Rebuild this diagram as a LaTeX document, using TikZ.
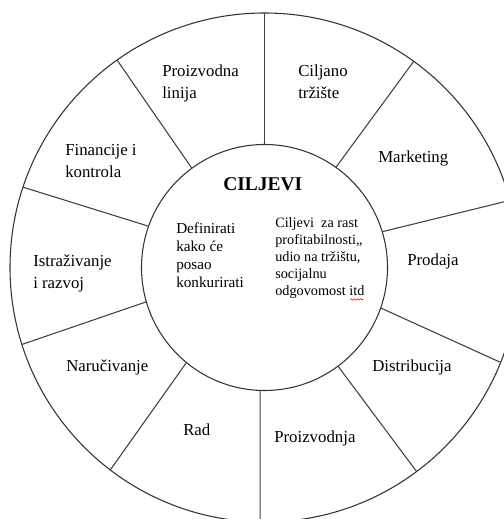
\documentclass[tikz,border=0pt]{standalone}
\usepackage{fontspec}
\setmainfont{Liberation Serif}
\usetikzlibrary{decorations.pathmorphing}
\newcommand\ml[1]{\begin{tabular}[t]{@{}l@{}}#1\end{tabular}}
\begin{document}
\begin{tikzpicture}[x=0.75pt,y=0.75pt,
  ring/.style={draw=black!80, line width=0.8pt},
  spoke/.style={draw=black!75, line width=0.8pt},
  lbl/.style={anchor=base west, inner sep=0pt, font=\fontsize{12.6}{15.9}\selectfont},
  title/.style={anchor=base west, inner sep=0pt, font=\fontsize{14.6}{17}\selectfont\bfseries},
  innerl/.style={anchor=base west, inner sep=0pt, font=\fontsize{11.4}{13.3}\selectfont},
  innerr/.style={anchor=base west, inner sep=0pt, font=\fontsize{10.7}{12.75}\selectfont},
  squiggle/.style={draw=red, line width=0.4pt, decorate, decoration={snake, amplitude=0.6pt, segment length=2.4pt}}]
\useasboundingbox (0,0) rectangle (504,519);
\clip (0,0) rectangle (504,519);
\coordinate (c) at (264.5,251.5);
\draw[ring] (c) circle[radius=254.5];
\draw[ring] (c) circle[radius=123];
\foreach \a/\b in {90/90, 126.2/125.4, 160.4/161.6, 196.2/197.6, 230.6/232.7,
                   268/269, 306.7/306.7, 340.8/338.1, 16.9/15.3, 54.5/54.1}
  \draw[spoke] ([shift={(\a:123)}]c) -- ([shift={(\b:254.5)}]c);
\node[lbl] (pl) at (162,442) {\ml{Proizvodna\\linija}};
\node[lbl] (ct) at (298,442) {\ml{Ciljano\\tržište}};
\node[lbl] (mk) at (378,356) {Marketing};
\node[lbl] (fk) at (65,363) {\ml{Financije i\\kontrola}};
\node[lbl] (ir) at (33,252) {\ml{Istraživanje\\i razvoj}};
\node[lbl] (pr) at (407,253) {Prodaja};
\node[lbl] (na) at (66,147) {Naručivanje};
\node[lbl] (di) at (372,147) {Distribucija};
\node[lbl] (ra) at (183,84) {Rad};
\node[lbl] (pz) at (274,76) {Proizvodnja};
\node[title] (cj) at (223,328) {CILJEVI};
\node[innerl] (de) at (176,285) {\ml{Definirati\\kako će\\posao\\konkurirati}};
\node[innerr] (cr) at (275,291) {\ml{Ciljevi\ \ za rast\\profitabilnosti,,\\udio na tržištu,\\socijalnu\\odgovomost itd}};
\coordinate (sq1) at (350,219.5);
\coordinate (sq2) at (363,219.5);
\draw[squiggle] (sq1) -- (sq2);
\end{tikzpicture}
\end{document}
